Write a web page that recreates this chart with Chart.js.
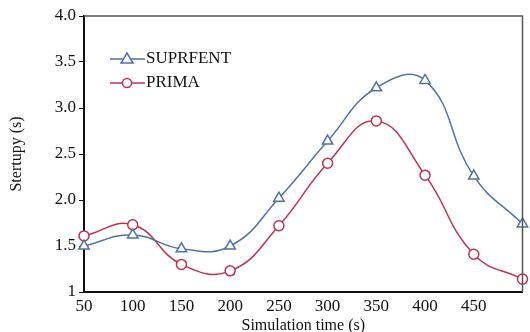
<!DOCTYPE html>
<html lang="en">
<head>
  <meta charset="UTF-8" />
  <title>Stertupy vs simulation time</title>
  <script src="https://cdn.jsdelivr.net/npm/chart.js"></script>
  <style>
    html, body { margin: 0; padding: 0; background: #fff; }
    #wrap { width: 530px; height: 332px; }
  </style>
</head>
<body>
  <div id="wrap"><canvas id="chart" width="530" height="332"></canvas></div>

  <script>
    const times = [50, 100, 150, 200, 250, 300, 350, 400, 450, 500];
    const suprfent = [1.50, 1.62, 1.47, 1.50, 2.02, 2.64, 3.22, 3.30, 2.26, 1.74];
    const prima = [1.61, 1.73, 1.30, 1.23, 1.72, 2.40, 2.86, 2.27, 1.41, 1.14];
    const yTicks = [1, 1.5, 2.0, 2.5, 3.0, 3.5, 4.0];

    const serif = "'Liberation Serif', 'Times New Roman', serif";
    const blue = "#4f73a8";
    const red = "#c4304c";

    const toPoints = arr => arr.map((v, i) => ({ x: times[i], y: v }));

    // legend sits inside the plot, top-left
    const innerLegend = {
      id: "innerLegend",
      afterDraw(chart) {
        const c = chart.ctx;
        const items = [
          { label: "SUPRFENT", color: blue, shape: "triangle", y: 59 },
          { label: "PRIMA", color: red, shape: "circle", y: 83 }
        ];
        c.save();
        c.font = "17px " + serif;
        c.textBaseline = "middle";
        items.forEach(it => {
          c.strokeStyle = it.color;
          c.lineWidth = 1.5;
          c.beginPath();
          c.moveTo(110, it.y);
          c.lineTo(145, it.y);
          c.stroke();
          c.fillStyle = "#fff";
          c.beginPath();
          if (it.shape === "triangle") {
            c.moveTo(127, it.y - 6);
            c.lineTo(133, it.y + 4);
            c.lineTo(121, it.y + 4);
            c.closePath();
          } else {
            c.arc(127, it.y, 4.5, 0, Math.PI * 2);
          }
          c.fill();
          c.stroke();
          c.fillStyle = "#111";
          c.fillText(it.label, 146, it.y);
        });
        // grey frame on top and right
        const a = chart.chartArea;
        c.strokeStyle = "#555";
        c.lineWidth = 1.5;
        c.beginPath();
        c.moveTo(a.left, a.top);
        c.lineTo(a.right, a.top);
        c.lineTo(a.right, a.bottom);
        c.stroke();
        c.restore();
      }
    };

    new Chart(document.getElementById("chart"), {
      type: "line",
      data: {
        datasets: [
          {
            label: "SUPRFENT",
            data: toPoints(suprfent),
            borderColor: blue,
            backgroundColor: "#fff",
            borderWidth: 1.5,
            pointStyle: "triangle",
            pointRadius: 6,
            pointBorderWidth: 1.5,
            tension: 0.45
          },
          {
            label: "PRIMA",
            data: toPoints(prima),
            borderColor: red,
            backgroundColor: "#fff",
            borderWidth: 1.5,
            pointStyle: "circle",
            pointRadius: 5,
            pointBorderWidth: 1.5,
            tension: 0.45
          }
        ]
      },
      plugins: [innerLegend],
      options: {
        responsive: false,
        animation: false,
        clip: false,
        layout: { padding: { top: 16, right: 2, left: 0, bottom: 0 } },
        plugins: {
          legend: { display: false },
          tooltip: { enabled: false }
        },
        scales: {
          x: {
            type: "linear",
            min: 50,
            max: 500,
            afterBuildTicks: s => { s.ticks = times.map(v => ({ value: v })); },
            afterFit: s => { s.height = 40; },
            border: { color: "#111", width: 2 },
            grid: { display: true, drawOnChartArea: false, tickLength: 0 },
            ticks: {
              color: "#111",
              font: { family: serif, size: 17 },
              padding: 4,
              maxRotation: 0,
              callback: v => (v === 500 ? "" : v)
            },
            title: {
              display: true,
              text: "Simulation time (s)",
              color: "#111",
              font: { family: serif, size: 16 },
              padding: { top: 0, bottom: -3 }
            }
          },
          y: {
            min: 1,
            max: 4,
            afterBuildTicks: s => { s.ticks = yTicks.map(v => ({ value: v })); },
            afterFit: s => { s.width = 84; },
            border: { color: "#111", width: 2 },
            grid: { display: true, drawOnChartArea: false, tickLength: 5, color: "#111" },
            ticks: {
              color: "#111",
              font: { family: serif, size: 17 },
              padding: 3,
              callback: v => (v === 1 ? "1" : v.toFixed(1))
            },
            title: {
              display: true,
              text: "Stertupy (s)",
              color: "#111",
              font: { family: serif, size: 16 },
              padding: { top: 7, bottom: 0 }
            }
          }
        }
      }
    });
  </script>
</body>
</html>
